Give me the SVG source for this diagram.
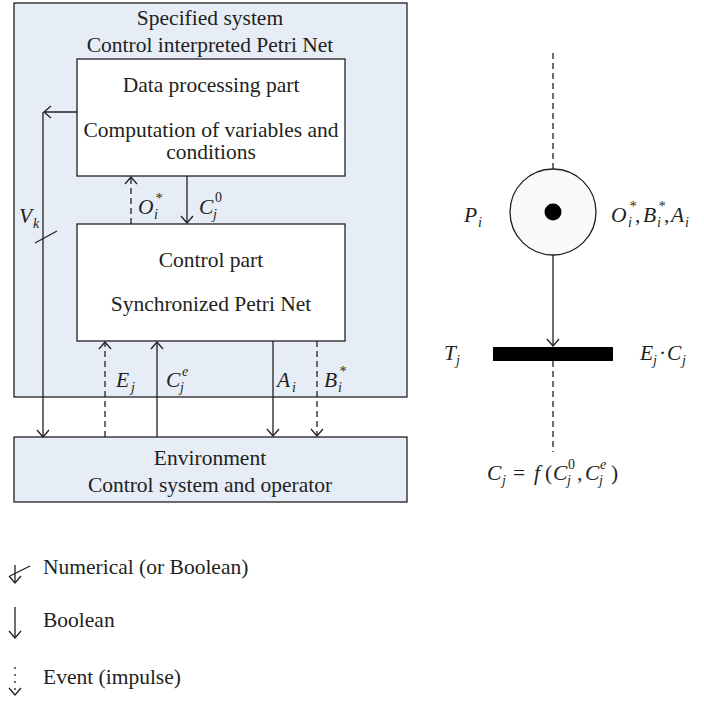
<svg xmlns="http://www.w3.org/2000/svg" width="704" height="701" viewBox="0 0 704 701">
<defs>
<style>
.t{font-family:"Liberation Serif","Times New Roman",serif;font-size:21.5px;fill:#231f20}
.c{text-anchor:middle}
.m{font-style:italic}
.s{font-family:"Liberation Serif","Times New Roman",serif;font-size:14px;font-style:italic;fill:#231f20}
.u{font-style:normal}
.ln{stroke:#231f20;stroke-width:1.3;fill:none}
.d{stroke-dasharray:6,4}
.box{fill:#ffffff;stroke:#231f20;stroke-width:1.3}
.bg{fill:#e6edf6;stroke:#231f20;stroke-width:1.3}
</style>
<marker id="ah" viewBox="-10 -10 20 20" markerWidth="20" markerHeight="20" markerUnits="userSpaceOnUse" orient="auto" refX="0" refY="0">
<path d="M-7,-6 L0,0 L-7,6" fill="none" stroke="#231f20" stroke-width="1.3"/>
</marker>
</defs>
<rect width="704" height="701" fill="#ffffff"/>

<g id="specified-system">
<rect class="bg" x="14" y="3" width="393" height="394"/>
<text class="t c" x="210" y="25">Specified system</text>
<text class="t c" x="210" y="52">Control interpreted Petri Net</text>
</g>

<g id="data-processing">
<rect class="box" x="77" y="59" width="268" height="117"/>
<text class="t c" x="211" y="92">Data processing part</text>
<text class="t c" x="211" y="137">Computation of variables and</text>
<text class="t c" x="211" y="159">conditions</text>
</g>

<g id="control-part">
<rect class="box" x="77" y="224" width="268" height="117"/>
<text class="t c" x="211" y="267">Control part</text>
<text class="t c" x="211" y="311">Synchronized Petri Net</text>
</g>

<g id="environment">
<rect class="bg" x="14" y="437" width="393" height="65"/>
<text class="t c" x="210" y="465">Environment</text>
<text class="t c" x="210" y="492">Control system and operator</text>
</g>

<g id="place">
<circle cx="553" cy="212" r="43" fill="#f9f9f9" stroke="#231f20" stroke-width="1.3"/>
<circle cx="553" cy="212" r="8.5" fill="#000000"/>
</g>

<g id="transition">
<rect x="493" y="347" width="120" height="14" fill="#000000"/>
</g>

<g id="connectors">
<path class="ln" d="M77,112 L44,112" marker-end="url(#ah)"/>
<path class="ln" d="M43,112 L43,437" marker-end="url(#ah)"/>
<path class="ln" d="M35,243 L57,231"/>
<path class="ln d" d="M131,224 L131,177" marker-end="url(#ah)"/>
<path class="ln" d="M187,176 L187,223" marker-end="url(#ah)"/>
<path class="ln d" d="M105,437 L105,342" marker-end="url(#ah)"/>
<path class="ln" d="M157,437 L157,342" marker-end="url(#ah)"/>
<path class="ln" d="M273,341 L273,436" marker-end="url(#ah)"/>
<path class="ln d" d="M317,341 L317,436" marker-end="url(#ah)"/>
<path class="ln d" d="M553,53 L553,169"/>
<path class="ln" d="M553,255 L553,346" marker-end="url(#ah)"/>
<path class="ln d" d="M553,361 L553,452"/>
</g>

<g id="labels">
<text class="t m" x="19" y="223">V</text><text class="s" x="33" y="228">k</text>
<text class="t m" x="138" y="214">O</text><text class="s" x="155" y="203">*</text><text class="s" x="154" y="219">i</text>
<text class="t m" x="199" y="214">C</text><text class="s u" x="215" y="202">0</text><text class="s" x="213" y="219">j</text>
<text class="t m" x="116" y="387">E</text><text class="s" x="131" y="392">j</text>
<text class="t m" x="166" y="387">C</text><text class="s" x="182" y="376">e</text><text class="s" x="180" y="392">j</text>
<text class="t m" x="277" y="387">A</text><text class="s" x="292" y="392">i</text>
<text class="t m" x="324" y="387">B</text><text class="s" x="339" y="376">*</text><text class="s" x="338" y="392">i</text>

<text class="t m" x="464" y="222">P</text><text class="s" x="478" y="227">i</text>
<text class="t m" x="611" y="222">O</text><text class="s" x="629" y="211">*</text><text class="s" x="628" y="227">i</text><text class="t" x="635" y="222">,</text>
<text class="t m" x="643" y="222">B</text><text class="s" x="658" y="211">*</text><text class="s" x="657" y="227">i</text><text class="t" x="664" y="222">,</text>
<text class="t m" x="671" y="222">A</text><text class="s" x="685" y="227">i</text>

<text class="t m" x="444" y="360">T</text><text class="s" x="456" y="365">j</text>
<text class="t m" x="640" y="360">E</text><text class="s" x="653" y="365">j</text><text class="t" x="659" y="360">·</text>
<text class="t m" x="667" y="360">C</text><text class="s" x="682" y="365">j</text>

<text class="t m" x="487" y="480">C</text><text class="s" x="502" y="485">j</text>
<text class="t" x="513" y="480">=</text>
<text class="t m" x="534" y="480">f</text>
<text class="t" x="545" y="480">(</text>
<text class="t m" x="553" y="480">C</text><text class="s u" x="568" y="469">0</text><text class="s" x="567" y="485">j</text>
<text class="t" x="577" y="480">,</text>
<text class="t m" x="585" y="480">C</text><text class="s" x="600" y="469">e</text><text class="s" x="599" y="485">j</text>
<text class="t" x="611" y="480">)</text>
</g>

<g id="legend">
<path class="ln" d="M15,565 L15,583" marker-end="url(#ah)"/>
<path class="ln" d="M10,576 L30,566"/>
<text class="t" x="43" y="574">Numerical (or Boolean)</text>
<path class="ln" d="M15,607 L15,638" marker-end="url(#ah)"/>
<text class="t" x="43" y="627">Boolean</text>
<path class="ln" d="M15,667 L15,695" stroke-dasharray="2,5" marker-end="url(#ah)"/>
<text class="t" x="43" y="684">Event (impulse)</text>
</g>
</svg>
